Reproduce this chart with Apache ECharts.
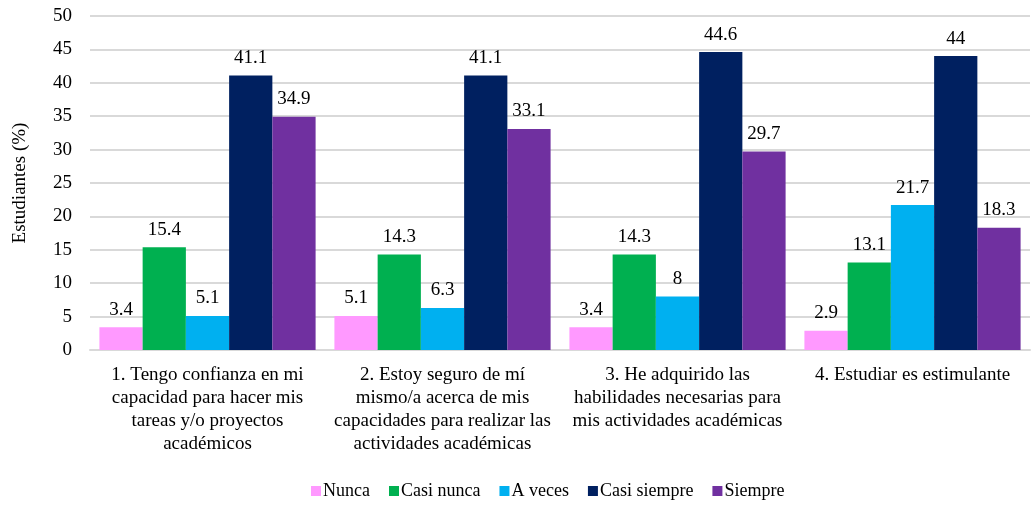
<!DOCTYPE html>
<html>
<head>
<meta charset="utf-8">
<script src="https://cdn.jsdelivr.net/npm/echarts@6/dist/echarts.min.js"></script>
<style>
  html, body { margin: 0; padding: 0; background: #fff; }
  #chart { width: 1035px; height: 507px; }
</style>
</head>
<body>
<div id="chart"></div>
<script>
// categorías (texto del eje X)
const categories = [
  '1. Tengo confianza en mi\ncapacidad para hacer mis\ntareas y/o proyectos\nacadémicos',
  '2. Estoy seguro de mí\nmismo/a acerca de mis\ncapacidades para realizar las\nactividades académicas',
  '3. He adquirido las\nhabilidades necesarias para\nmis actividades académicas',
  '4. Estudiar es estimulante'
]
const seriesNames = ['Nunca', 'Casi nunca', 'A veces', 'Casi siempre', 'Siempre']
const nunca = [3.4, 5.1, 3.4, 2.9]
const casiNunca = [15.4, 14.3, 14.3, 13.1]
const aVeces = [5.1, 6.3, 8, 21.7]
const casiSiempre = [41.1, 41.1, 44.6, 44]
const siempre = [34.9, 33.1, 29.7, 18.3]
const colors = ['#FF99FF', '#00B050', '#00B0F0', '#002060', '#7030A0']

const font = 'Liberation Serif, Times New Roman, serif'
const chart = echarts.init(document.getElementById('chart'))

const values = [nunca, casiNunca, aVeces, casiSiempre, siempre]
const series = values.map((data, i) => ({
  name: seriesNames[i],
  type: 'bar',
  data,
  barGap: '0%',
  barCategoryGap: '8%',
  itemStyle: { color: colors[i] },
  label: {
    show: true,
    position: 'top',
    distance: 8,
    color: '#000',
    fontFamily: font,
    fontSize: 19
  }
}))

chart.setOption({
  animation: false,
  color: colors,
  grid: { left: 90, right: 5, top: 16, bottom: 157 },
  legend: {
    bottom: 2,
    left: 306,
    itemWidth: 10,
    itemHeight: 10,
    itemGap: 19,
    icon: 'rect',
    textStyle: { fontFamily: font, fontSize: 18, color: '#000', padding: [0, 0, 0, -3] },
    data: seriesNames
  },
  xAxis: {
    type: 'category',
    data: categories,
    axisLine: { lineStyle: { color: '#d9d9d9', width: 2 } },
    axisTick: { show: false },
    axisLabel: {
      interval: 0,
      margin: 14,
      color: '#000',
      fontFamily: font,
      fontSize: 19,
      lineHeight: 23
    }
  },
  yAxis: {
    type: 'value',
    min: 0,
    max: 50,
    interval: 5,
    name: 'Estudiantes (%)',
    nameLocation: 'middle',
    nameGap: 60,
    nameTextStyle: { fontFamily: font, fontSize: 19, color: '#000' },
    axisLine: { show: false },
    axisTick: { show: false },
    splitLine: { lineStyle: { color: '#d9d9d9', width: 2 } },
    axisLabel: { color: '#000', fontFamily: font, fontSize: 19, margin: 18 }
  },
  series
})
</script>
</body>
</html>
